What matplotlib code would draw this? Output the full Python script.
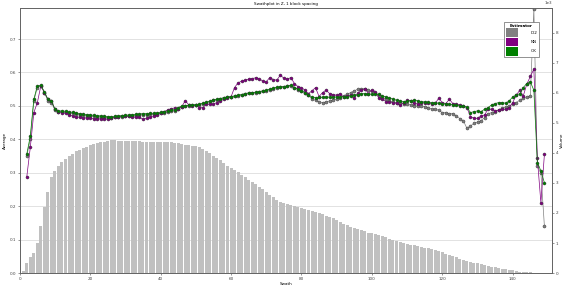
import matplotlib
matplotlib.use('Agg')
import matplotlib.pyplot as plt
from matplotlib.patches import Patch
import numpy as np

# swath numbers
swath_bars = list(range(1, 148))
swath_lines = list(range(2, 150))

# volume per swath (raw units)
volume = [70, 340, 540, 680, 1000, 1570, 2210, 2710, 3210, 3410,
          3570, 3700, 3810, 3900, 3980, 4050, 4110, 4160, 4210, 4250,
          4290, 4320, 4350, 4380, 4400, 4420, 4420, 4410, 4400, 4400,
          4390, 4390, 4390, 4390, 4380, 4380, 4380, 4380, 4370, 4370,
          4370, 4360, 4350, 4340, 4320, 4300, 4280, 4260, 4240, 4220,
          4190, 4140, 4070, 3990, 3910, 3830, 3750, 3670, 3580, 3500,
          3420, 3350, 3270, 3190, 3110, 3030, 2950, 2870, 2790, 2700,
          2610, 2530, 2440, 2380, 2330, 2290, 2260, 2230, 2200, 2170,
          2140, 2110, 2080, 2040, 2000, 1960, 1910, 1870, 1820, 1770,
          1710, 1650, 1600, 1550, 1510, 1470, 1430, 1390, 1350, 1320,
          1300, 1270, 1230, 1190, 1150, 1110, 1070, 1030, 1000, 970,
          940, 920, 900, 870, 850, 820, 790, 770, 730, 690,
          650, 600, 560, 520, 480, 450, 410, 380, 350, 320,
          290, 270, 240, 210, 190, 170, 150, 130, 110, 90,
          70, 50, 40, 30, 20, 10, 10]

# OK estimator average
ok = [0.356, 0.41, 0.52, 0.56, 0.562, 0.542, 0.52, 0.515, 0.49, 0.485,
      0.485, 0.484, 0.482, 0.481, 0.479, 0.477, 0.475, 0.474, 0.473, 0.472,
      0.471, 0.470, 0.469, 0.468, 0.468, 0.469, 0.470, 0.471, 0.472, 0.473,
      0.474, 0.475, 0.476, 0.477, 0.477, 0.478, 0.478, 0.479, 0.481, 0.483,
      0.485, 0.487, 0.489, 0.495, 0.500, 0.501, 0.502, 0.503, 0.504, 0.505,
      0.508, 0.511, 0.514, 0.518, 0.520, 0.522, 0.525, 0.527, 0.528, 0.530,
      0.532, 0.534, 0.537, 0.539, 0.540, 0.541, 0.543, 0.545, 0.547, 0.550,
      0.553, 0.556, 0.557, 0.558, 0.560, 0.562, 0.555, 0.550, 0.545, 0.540,
      0.533, 0.526, 0.525, 0.526, 0.526, 0.527, 0.526, 0.526, 0.527, 0.527,
      0.528, 0.528, 0.530, 0.532, 0.534, 0.537, 0.537, 0.536, 0.535, 0.535,
      0.535, 0.530, 0.527, 0.524, 0.520, 0.517, 0.515, 0.513, 0.514, 0.516,
      0.517, 0.515, 0.513, 0.512, 0.511, 0.510, 0.510, 0.508, 0.507, 0.506,
      0.505, 0.504, 0.503, 0.501, 0.499, 0.496, 0.480, 0.483, 0.485, 0.483,
      0.490, 0.495, 0.503, 0.507, 0.510, 0.510, 0.508, 0.515, 0.527, 0.532,
      0.537, 0.555, 0.567, 0.572, 0.547, 0.330, 0.306, 0.270]

# NN estimator average
nn = [0.288, 0.376, 0.48, 0.51, 0.56, 0.54, 0.52, 0.515, 0.49, 0.483,
      0.480, 0.478, 0.474, 0.470, 0.468, 0.466, 0.465, 0.464, 0.463, 0.462,
      0.462, 0.461, 0.462, 0.460, 0.463, 0.466, 0.468, 0.470, 0.469, 0.470,
      0.468, 0.466, 0.466, 0.460, 0.463, 0.467, 0.470, 0.473, 0.478, 0.483,
      0.488, 0.492, 0.494, 0.492, 0.497, 0.516, 0.503, 0.500, 0.503, 0.495,
      0.495, 0.505, 0.505, 0.506, 0.510, 0.515, 0.520, 0.524, 0.527, 0.555,
      0.569, 0.574, 0.577, 0.580, 0.582, 0.584, 0.582, 0.574, 0.572, 0.585,
      0.579, 0.577, 0.592, 0.583, 0.580, 0.585, 0.567, 0.558, 0.555, 0.547,
      0.537, 0.545, 0.555, 0.528, 0.540, 0.547, 0.537, 0.534, 0.532, 0.537,
      0.526, 0.530, 0.532, 0.523, 0.538, 0.547, 0.552, 0.537, 0.548, 0.543,
      0.523, 0.520, 0.513, 0.512, 0.510, 0.508, 0.503, 0.510, 0.517, 0.515,
      0.510, 0.505, 0.508, 0.510, 0.510, 0.505, 0.508, 0.523, 0.510, 0.507,
      0.520, 0.507, 0.505, 0.503, 0.500, 0.495, 0.468, 0.463, 0.463, 0.470,
      0.473, 0.490, 0.490, 0.485, 0.488, 0.490, 0.490, 0.495, 0.510, 0.532,
      0.547, 0.530, 0.565, 0.588, 0.610, 0.343, 0.210, 0.355]

# ID2 estimator average
id2 = [0.350, 0.400, 0.515, 0.555, 0.560, 0.540, 0.515, 0.510, 0.488, 0.483,
       0.482, 0.481, 0.479, 0.478, 0.476, 0.474, 0.472, 0.471, 0.470, 0.469,
       0.468, 0.467, 0.466, 0.465, 0.465, 0.466, 0.467, 0.468, 0.469, 0.470,
       0.471, 0.472, 0.473, 0.474, 0.474, 0.475, 0.475, 0.476, 0.478, 0.480,
       0.482, 0.484, 0.486, 0.492, 0.498, 0.500, 0.501, 0.502, 0.503, 0.504,
       0.507, 0.510, 0.513, 0.517, 0.519, 0.521, 0.524, 0.526, 0.527, 0.529,
       0.531, 0.533, 0.536, 0.538, 0.539, 0.540, 0.542, 0.544, 0.546, 0.549,
       0.552, 0.555, 0.556, 0.557, 0.559, 0.561, 0.554, 0.549, 0.544, 0.539,
       0.532, 0.520, 0.517, 0.512, 0.510, 0.512, 0.515, 0.518, 0.520, 0.525,
       0.530, 0.535, 0.540, 0.545, 0.550, 0.550, 0.552, 0.547, 0.545, 0.540,
       0.530, 0.525, 0.520, 0.515, 0.512, 0.510, 0.508, 0.507, 0.505, 0.503,
       0.500, 0.500, 0.500, 0.498, 0.495, 0.490, 0.490, 0.487, 0.480, 0.480,
       0.477, 0.477, 0.470, 0.462, 0.455, 0.433, 0.440, 0.448, 0.452, 0.456,
       0.465, 0.477, 0.480, 0.483, 0.488, 0.493, 0.497, 0.500, 0.505, 0.510,
       0.517, 0.523, 0.527, 0.530, 0.790, 0.320, 0.300, 0.140]

estimators = ['ID2', 'NN', 'OK']
colors = {'ID2': '#808080', 'NN': '#800080', 'OK': '#008000'}
series = {'ID2': id2, 'NN': nn, 'OK': ok}

fs = 3
fig = plt.figure(figsize=(5.64, 2.85), dpi=100)
ax = fig.add_axes([0.035, 0.042, 0.944, 0.930])

# grid on the bottom axes
ax.set_ylim(0, 0.793)
ax.set_xlim(0, 151.2)
ax.set_yticks(np.arange(0, 0.75, 0.1))
ax.yaxis.grid(True, color='#dddddd', linewidth=0.6)
ax.set_axisbelow(True)

# bars on right axis
ax2 = ax.twinx()
ax2.bar(swath_bars, volume, width=0.85, color='#c0c0c0', edgecolor='none')
ax2.set_ylim(0, 8830)
ax2.ticklabel_format(axis='y', style='sci', scilimits=(0, 0))

# lines on a third axes above the bars
ax3 = ax.twinx()
ax3.set_ylim(ax.get_ylim())
ax3.set_yticks([])
for name in estimators:
    ax3.plot(swath_lines, series[name], color=colors[name], linewidth=0.5,
             marker='o', markersize=2.2, markeredgecolor='#333333',
             markeredgewidth=0.3, markerfacecolor=colors[name])

for a in (ax, ax2, ax3):
    a.tick_params(labelsize=fs, length=1.5, width=0.4, pad=1, colors='#444444')
    for s in a.spines.values():
        s.set_linewidth(0.6)
        s.set_color('#666666')
ax2.yaxis.get_offset_text().set_fontsize(fs)

ax.set_xlabel('Swath', fontsize=fs, labelpad=1)
ax.set_ylabel('Average', fontsize=fs, labelpad=2)
ax2.set_ylabel('Volume', fontsize=fs, labelpad=1)
ax.set_title('Swathplot in Z, 1 block spacing', fontsize=fs, pad=2)

handles = [Patch(facecolor=colors[n], edgecolor='none', label=n) for n in estimators]
leg = ax3.legend(handles=handles, title='Estimator', loc='upper right',
                 bbox_to_anchor=(0.98, 0.955), fontsize=fs, title_fontsize=fs,
                 handlelength=3.0, handleheight=2.8, labelspacing=0.15,
                 handletextpad=3.0, borderpad=0.45, fancybox=False,
                 framealpha=1, edgecolor='#666666')
leg.get_title().set_fontweight('bold')
leg.get_frame().set_linewidth(0.5)

fig.savefig('out.png', dpi=100)
